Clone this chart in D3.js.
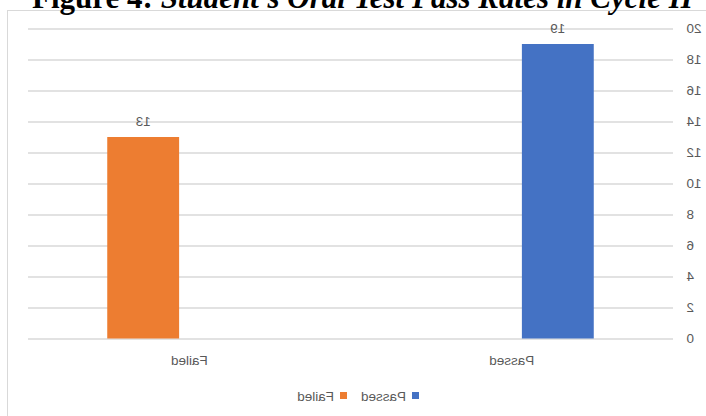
<!DOCTYPE html>
<html>
<head>
<meta charset="utf-8">
<script src="https://cdn.jsdelivr.net/npm/d3@7"></script>
<style>
  html, body { margin: 0; padding: 0; background: #ffffff; }
  svg { display: block; }
</style>
</head>
<body>
<svg id="chart" width="706" height="416"></svg>
<script>
// Data
const categories = ["Passed", "Failed"];
const seriesNames = ["Passed", "Failed"];
const passedValues = [19, null];
const failedValues = [null, 13];
const yTicks = [0, 2, 4, 6, 8, 10, 12, 14, 16, 18, 20];
const titleBold = "Figure 4:";
const titleRest = " Student's Oral Test Pass Rates in Cycle II";

const colors = { Passed: "#4472C4", Failed: "#ED7D31" };
const textColor = "#595959";
const gridColor = "#d9d9d9";
const font = "'Liberation Sans', Arial, sans-serif";

const W = 706, H = 416;
const svg = d3.select("#chart");

// Chart area (drawn left-to-right, then flipped horizontally as a whole)
const chart = svg.append("g").attr("transform", `translate(${W},0) scale(-1,1)`);

chart.append("rect")
  .attr("x", -6).attr("y", 10.5)
  .attr("width", 704.5).attr("height", 420)
  .attr("fill", "#ffffff")
  .attr("stroke", gridColor).attr("stroke-width", 1);

const plotLeft = 33, plotRight = 678, plotTop = 28.5, plotBottom = 338.5;

const y = d3.scaleLinear().domain([0, 20]).range([plotBottom, plotTop]);
const x = d3.scaleBand().domain(categories).range([plotLeft, plotRight]).padding(0);
const xs = d3.scaleBand().domain(seriesNames).range([0, x.bandwidth()])
  .paddingInner(0.22).paddingOuter(0.86);

// Gridlines
const grid = chart.append("g").attr("transform", `translate(${plotLeft},0)`)
  .call(d3.axisLeft(y).tickValues(yTicks).tickSize(-(plotRight - plotLeft)).tickFormat(""));
grid.select(".domain").remove();
grid.selectAll("line").attr("stroke", gridColor).attr("stroke-width", 1.3);

// Value axis labels
const yAxis = chart.append("g").attr("transform", `translate(${plotLeft},0)`)
  .call(d3.axisLeft(y).tickValues(yTicks).tickSize(0).tickPadding(13.5));
yAxis.select(".domain").remove();
yAxis.selectAll("text")
  .attr("fill", textColor).attr("font-family", font).attr("font-size", "13.5px");

// Category axis labels
const xAxis = chart.append("g").attr("transform", `translate(0,${plotBottom})`)
  .call(d3.axisBottom(x).tickSize(0).tickPadding(17));
xAxis.select(".domain").remove();
xAxis.selectAll("text")
  .attr("fill", textColor).attr("font-family", font).attr("font-size", "13.5px");

// Bars
const rows = [];
categories.forEach((c, i) => {
  if (passedValues[i] != null) rows.push({ cat: c, series: "Passed", value: passedValues[i] });
  if (failedValues[i] != null) rows.push({ cat: c, series: "Failed", value: failedValues[i] });
});

chart.append("g").selectAll("rect").data(rows).join("rect")
  .attr("x", d => x(d.cat) + xs(d.series))
  .attr("y", d => y(d.value))
  .attr("width", xs.bandwidth())
  .attr("height", d => y(0) - y(d.value))
  .attr("fill", d => colors[d.series]);

// Data labels
chart.append("g").selectAll("text").data(rows).join("text")
  .attr("x", d => x(d.cat) + xs(d.series) + xs.bandwidth() / 2)
  .attr("y", d => y(d.value) - 11)
  .attr("text-anchor", "middle")
  .attr("fill", textColor).attr("font-family", font).attr("font-size", "13.5px")
  .text(d => d.value);

// Legend
const legendItems = [
  { name: "Passed", x: 287 },
  { name: "Failed", x: 359 }
];
const legend = chart.append("g");
legend.selectAll("rect").data(legendItems).join("rect")
  .attr("x", d => d.x).attr("y", 392)
  .attr("width", 7).attr("height", 7)
  .attr("fill", d => colors[d.name]);
legend.selectAll("text").data(legendItems).join("text")
  .attr("x", d => d.x + 13).attr("y", 401)
  .attr("fill", textColor).attr("font-family", font).attr("font-size", "13.5px")
  .text(d => d.name);

// Title (reads normally, sits above the frame)
const title = svg.append("text")
  .attr("x", 32).attr("y", 8)
  .attr("font-family", "'Liberation Serif', 'Times New Roman', serif")
  .attr("font-size", "26px")
  .attr("fill", "#000000");
title.append("tspan").attr("font-weight", "bold").text(titleBold);
title.append("tspan").attr("font-weight", "bold").attr("font-style", "italic").text(titleRest);
const tw = title.node().getComputedTextLength();
title.attr("font-size", (26 * 661 / tw) + "px");
</script>
</body>
</html>
